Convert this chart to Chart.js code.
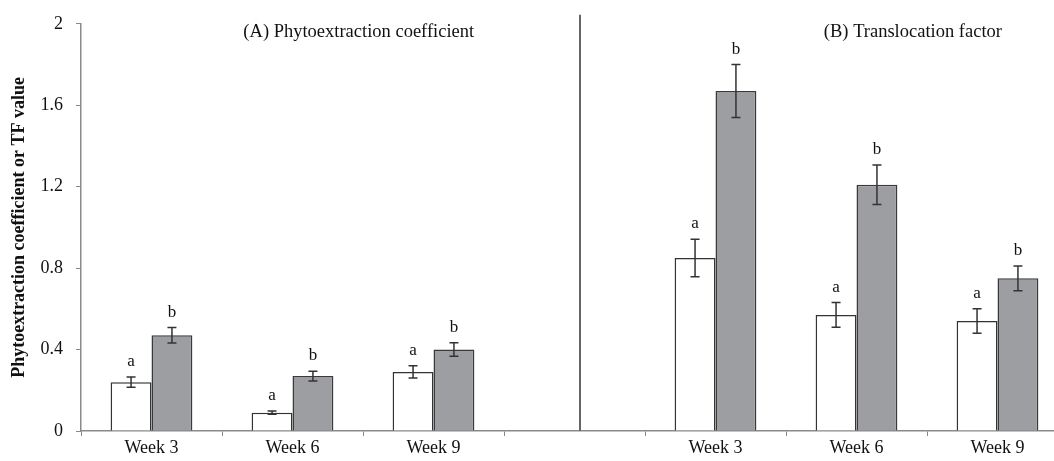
<!DOCTYPE html>
<html>
<head>
<meta charset="utf-8">
<script src="https://cdn.jsdelivr.net/npm/chart.js@4"></script>
<style>
  html, body { margin: 0; padding: 0; background: #fff; overflow: hidden; }
  #frame { width: 1054px; height: 461px; overflow: hidden; position: relative; }
  #chart { display: block; }
</style>
</head>
<body>
<div id="frame"><canvas id="chart" width="1080" height="461"></canvas></div>
<script>
// Week categories: three for panel A, one empty spacer slot, three for panel B
const categories = ['Week 3', 'Week 6', 'Week 9', '', 'Week 3', 'Week 6', 'Week 9'];

// Open bars (group a)
const openValues = [0.24, 0.09, 0.29, null, 0.85, 0.57, 0.54];
const openErrors = [0.025, 0.008, 0.03, null, 0.092, 0.061, 0.06];
const openLetters = ['a', 'a', 'a', null, 'a', 'a', 'a'];

// Grey bars (group b)
const greyValues = [0.47, 0.27, 0.40, null, 1.67, 1.21, 0.75];
const greyErrors = [0.038, 0.024, 0.033, null, 0.13, 0.097, 0.061];
const greyLetters = ['b', 'b', 'b', null, 'b', 'b', 'b'];

// Y axis ticks
const yTicks = [0, 0.4, 0.8, 1.2, 1.6, 2];

const panelTitles = ['(A) Phytoextraction coefficient', '(B) Translocation factor'];
const yTitle = 'Phytoextraction coefficient or TF value';

const SERIF = '"Liberation Serif", "DejaVu Serif", serif';

// Error bars, significance letters, the panel divider and panel headings
const annotate = {
  id: 'annotate',
  afterDatasetsDraw(chart) {
    const { ctx, chartArea } = chart;
    const y = chart.scales.y;
    const x = chart.scales.x;
    const sets = [
      { meta: chart.getDatasetMeta(0), vals: openValues, errs: openErrors, letters: openLetters },
      { meta: chart.getDatasetMeta(1), vals: greyValues, errs: greyErrors, letters: greyLetters }
    ];
    ctx.save();
    sets.forEach(s => {
      s.meta.data.forEach((bar, i) => {
        const v = s.vals[i];
        if (v === null || v === undefined) return;
        const e = s.errs[i];
        const cx = bar.x;
        const yTop = y.getPixelForValue(v + e);
        const yBot = y.getPixelForValue(v - e);
        ctx.strokeStyle = '#333';
        ctx.lineWidth = 1.5;
        ctx.beginPath();
        ctx.moveTo(cx, yTop); ctx.lineTo(cx, yBot);
        ctx.moveTo(cx - 4.5, yTop); ctx.lineTo(cx + 4.5, yTop);
        ctx.moveTo(cx - 4.5, yBot); ctx.lineTo(cx + 4.5, yBot);
        ctx.stroke();
        if (s.letters[i]) {
          ctx.fillStyle = '#111';
          ctx.font = '17px ' + SERIF;
          ctx.textAlign = 'center';
          ctx.textBaseline = 'alphabetic';
          ctx.fillText(s.letters[i], cx, yTop - 11);
        }
      });
    });

    // vertical divider between the two panels
    const p3 = x.getPixelForValue(3);
    const step = x.getPixelForValue(4) - p3;
    const dx = Math.round(p3 + step * 0.04);
    ctx.strokeStyle = '#666';
    ctx.lineWidth = 2;
    ctx.beginPath();
    ctx.moveTo(dx, chartArea.top - 9);
    ctx.lineTo(dx, chartArea.bottom);
    ctx.stroke();

    // panel headings
    ctx.fillStyle = '#111';
    ctx.font = '18.5px ' + SERIF;
    ctx.textAlign = 'center';
    ctx.textBaseline = 'alphabetic';
    const leftMid = x.getPixelForValue(1) + step * 0.47;
    const rightMid = x.getPixelForValue(5) + step * 0.4;
    ctx.fillText(panelTitles[0], leftMid, chartArea.top + 13);
    ctx.fillText(panelTitles[1], rightMid, chartArea.top + 13);
    ctx.restore();
  }
};

new Chart(document.getElementById('chart'), {
  type: 'bar',
  data: {
    labels: categories,
    datasets: [
      {
        label: 'a',
        data: openValues,
        backgroundColor: '#ffffff',
        borderColor: '#333333',
        borderWidth: 1.5,
        categoryPercentage: 0.58,
        barPercentage: 1.0
      },
      {
        label: 'b',
        data: greyValues,
        backgroundColor: '#9c9ea1',
        borderColor: '#3a3a3a',
        borderWidth: 1.5,
        categoryPercentage: 0.58,
        barPercentage: 1.0
      }
    ]
  },
  options: {
    responsive: false,
    animation: false,
    devicePixelRatio: 1,
    layout: { padding: { top: 22, right: 12, left: 0, bottom: 0 } },
    plugins: {
      legend: { display: false },
      tooltip: { enabled: false },
      title: { display: false }
    },
    scales: {
      x: {
        afterFit(scale) { scale.height = 30; },
        grid: { display: true, drawOnChartArea: false, offset: true, tickLength: 5, color: '#8a8a8a', lineWidth: 1 },
        border: { display: true, color: '#8a8a8a', width: 1.5 },
        ticks: {
          autoSkip: false, maxRotation: 0, minRotation: 0, padding: 1,
          color: '#111', font: { family: SERIF, size: 18 }
        }
      },
      y: {
        min: 0,
        max: 2,
        afterFit(scale) { scale.width = 81; },
        afterBuildTicks(scale) { scale.ticks = yTicks.map(v => ({ value: v })); },
        grid: { display: true, drawOnChartArea: false, tickLength: 5, color: '#8a8a8a', lineWidth: 1 },
        border: { display: true, color: '#8a8a8a', width: 1.5 },
        ticks: {
          padding: 13,
          color: '#111',
          font: { family: SERIF, size: 18 },
          callback: v => String(Number(v.toFixed(1)))
        },
        title: {
          display: true,
          text: yTitle,
          color: '#111',
          font: { family: SERIF, size: 18, weight: 'bold' },
          padding: { top: 9, bottom: 0 }
        }
      }
    }
  },
  plugins: [annotate]
});
</script>
</body>
</html>
